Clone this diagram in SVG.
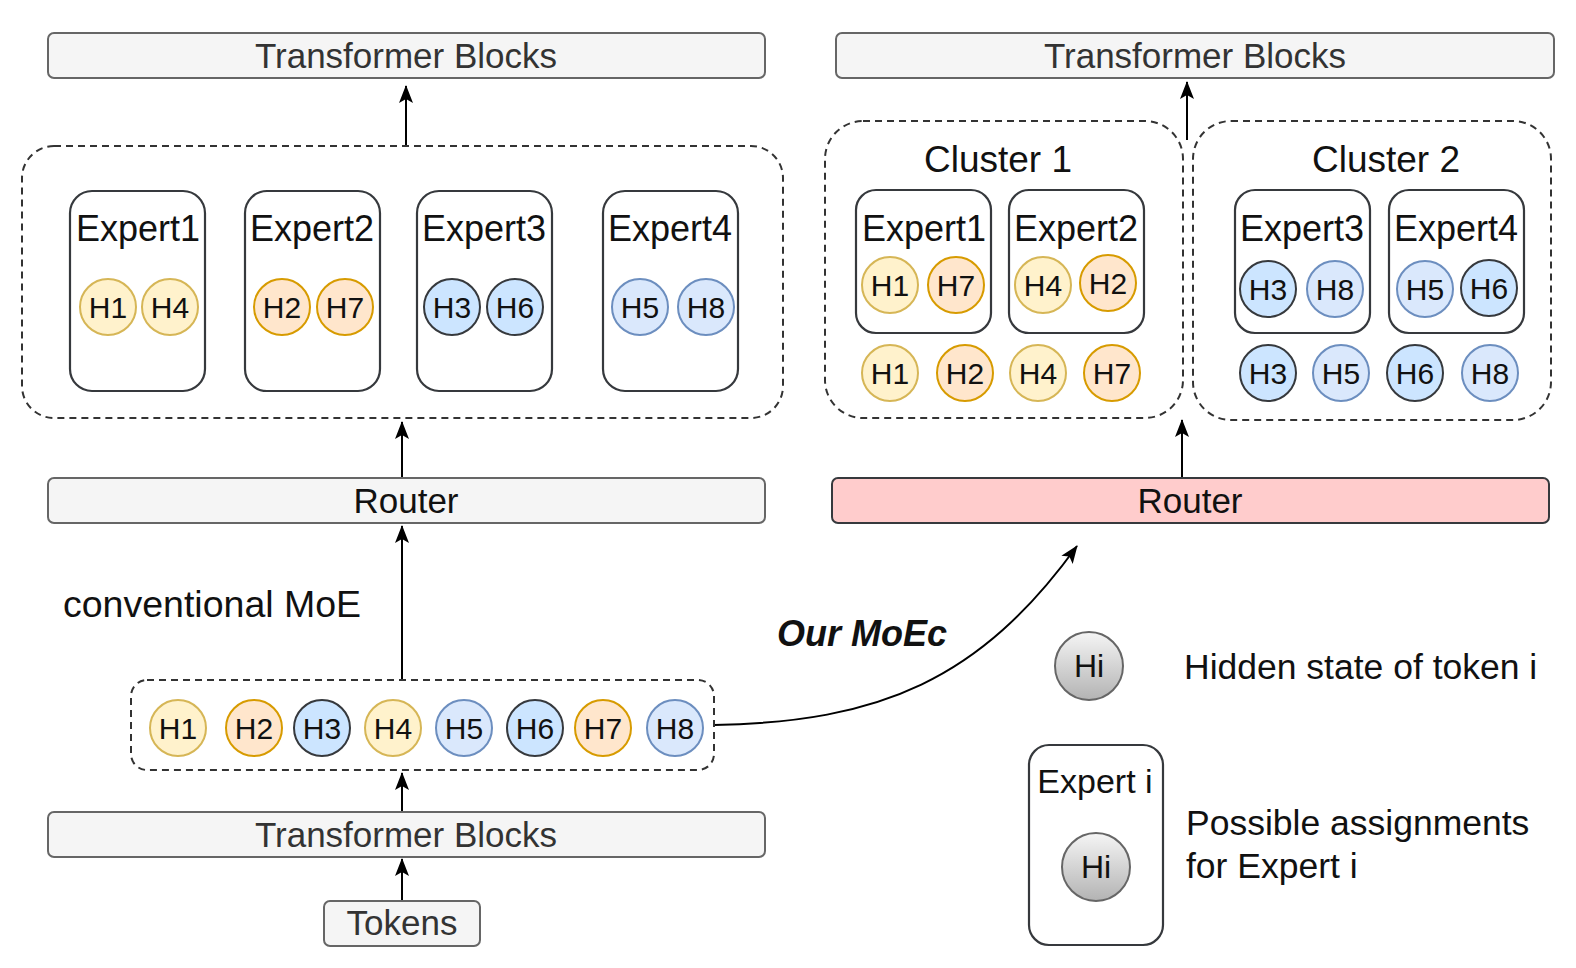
<svg xmlns="http://www.w3.org/2000/svg" width="1576" height="968" viewBox="0 0 1576 968">
<defs>
<linearGradient id="gray" x1="0" y1="0" x2="0" y2="1"><stop offset="0" stop-color="#f5f5f5"/><stop offset="1" stop-color="#b3b3b3"/></linearGradient>
<marker id="arr" viewBox="0 0 18 14" refX="17" refY="7" markerWidth="18" markerHeight="14" orient="auto" markerUnits="userSpaceOnUse"><path d="M0,0 L18,7 L0,14 L4,7 Z" fill="#000"/></marker>
<style>
text{font-family:"Liberation Sans",Arial,Helvetica,sans-serif;fill:#111}
.blk{fill:#f5f5f5;stroke:#666;stroke-width:2}
.blkt{font-size:35px;text-anchor:middle;fill:#333}
.dash{fill:none;stroke:#333;stroke-width:2;stroke-dasharray:7 5}
.exp{fill:#fff;stroke:#36393d;stroke-width:2.2}
.expt{font-size:36px;text-anchor:middle}
.ht{font-size:30px;text-anchor:middle}
.y{fill:#fff2cc;stroke:#d6b656;stroke-width:2}
.o{fill:#ffe6cc;stroke:#d79b00;stroke-width:2}
.b1{fill:#cce5ff;stroke:#36393d;stroke-width:2}
.b2{fill:#dae8fc;stroke:#6c8ebf;stroke-width:2}
.g{fill:url(#gray);stroke:#666;stroke-width:2}
.con{fill:none;stroke:#000;stroke-width:2;marker-end:url(#arr)}
.lbl{font-size:35.5px}
</style>
</defs>

<g id="connectors">
<line class="con" x1="406" y1="146" x2="406" y2="86"/>
<line class="con" x1="402" y1="478" x2="402" y2="422"/>
<line class="con" x1="402" y1="680" x2="402" y2="526"/>
<line class="con" x1="402" y1="812" x2="402" y2="773"/>
<line class="con" x1="402" y1="901" x2="402" y2="859"/>
<line class="con" x1="1187" y1="140" x2="1187" y2="82"/>
<line class="con" x1="1182" y1="478" x2="1182" y2="420"/>
<path class="con" d="M714 725 C880 722 980 680 1077 546"/>
</g>

<g id="left-top-transformer"><rect class="blk" x="48" y="33" width="717" height="45" rx="6"/><text class="blkt" x="406" y="68">Transformer Blocks</text></g>
<g id="left-experts-group"><rect class="dash" x="22" y="146" width="761" height="272" rx="32"/></g>

<g id="l-expert1"><rect class="exp" x="70" y="191" width="135" height="200" rx="22"/><text class="expt" x="138" y="241">Expert1</text>
<circle class="y" cx="108" cy="307" r="28"/><text class="ht" x="108" y="318">H1</text>
<circle class="y" cx="170" cy="307" r="28"/><text class="ht" x="170" y="318">H4</text></g>
<g id="l-expert2"><rect class="exp" x="245" y="191" width="135" height="200" rx="22"/><text class="expt" x="312" y="241">Expert2</text>
<circle class="o" cx="282" cy="307" r="28"/><text class="ht" x="282" y="318">H2</text>
<circle class="o" cx="345" cy="307" r="28"/><text class="ht" x="345" y="318">H7</text></g>
<g id="l-expert3"><rect class="exp" x="417" y="191" width="135" height="200" rx="22"/><text class="expt" x="484" y="241">Expert3</text>
<circle class="b1" cx="452" cy="307" r="28"/><text class="ht" x="452" y="318">H3</text>
<circle class="b1" cx="515" cy="307" r="28"/><text class="ht" x="515" y="318">H6</text></g>
<g id="l-expert4"><rect class="exp" x="603" y="191" width="135" height="200" rx="22"/><text class="expt" x="670" y="241">Expert4</text>
<circle class="b2" cx="640" cy="307" r="28"/><text class="ht" x="640" y="318">H5</text>
<circle class="b2" cx="706" cy="307" r="28"/><text class="ht" x="706" y="318">H8</text></g>

<g id="left-router"><rect class="blk" x="48" y="478" width="717" height="45" rx="6"/><text class="blkt" x="406" y="513" style="fill:#111">Router</text></g>
<g id="conv-label"><text class="lbl" x="63" y="617" style="font-size:37.5px">conventional MoE</text></g>

<g id="token-row"><rect class="dash" x="131" y="680" width="583" height="90" rx="16"/>
<circle class="y" cx="178" cy="728" r="28"/><text class="ht" x="178" y="739">H1</text>
<circle class="o" cx="254" cy="728" r="28"/><text class="ht" x="254" y="739">H2</text>
<circle class="b1" cx="322" cy="728" r="28"/><text class="ht" x="322" y="739">H3</text>
<circle class="y" cx="393" cy="728" r="28"/><text class="ht" x="393" y="739">H4</text>
<circle class="b2" cx="464" cy="728" r="28"/><text class="ht" x="464" y="739">H5</text>
<circle class="b1" cx="535" cy="728" r="28"/><text class="ht" x="535" y="739">H6</text>
<circle class="o" cx="603" cy="728" r="28"/><text class="ht" x="603" y="739">H7</text>
<circle class="b2" cx="675" cy="728" r="28"/><text class="ht" x="675" y="739">H8</text></g>

<g id="bottom-transformer"><rect class="blk" x="48" y="812" width="717" height="45" rx="6"/><text class="blkt" x="406" y="847">Transformer Blocks</text></g>
<g id="tokens"><rect class="blk" x="324" y="901" width="156" height="45" rx="6"/><text class="blkt" x="402" y="935">Tokens</text></g>

<g id="moec-label"><text x="777" y="646" style="font-size:36px;font-weight:bold;font-style:italic">Our MoEc</text></g>

<g id="right-top-transformer"><rect class="blk" x="836" y="33" width="718" height="45" rx="6"/><text class="blkt" x="1195" y="68">Transformer Blocks</text></g>

<g id="cluster1"><rect class="dash" x="825" y="121" width="358" height="297" rx="38"/><text class="expt" x="998" y="172" style="font-size:37px">Cluster 1</text>
<circle class="y" cx="890" cy="373" r="28"/><text class="ht" x="890" y="384">H1</text>
<circle class="o" cx="965" cy="373" r="28"/><text class="ht" x="965" y="384">H2</text>
<circle class="y" cx="1038" cy="373" r="28"/><text class="ht" x="1038" y="384">H4</text>
<circle class="o" cx="1112" cy="373" r="28"/><text class="ht" x="1112" y="384">H7</text></g>
<g id="c1-expert1"><rect class="exp" x="856" y="190" width="135" height="143" rx="20"/><text class="expt" x="924" y="241">Expert1</text>
<circle class="y" cx="890" cy="285" r="28"/><text class="ht" x="890" y="296">H1</text>
<circle class="o" cx="956" cy="285" r="28"/><text class="ht" x="956" y="296">H7</text></g>
<g id="c1-expert2"><rect class="exp" x="1009" y="190" width="135" height="143" rx="20"/><text class="expt" x="1076" y="241">Expert2</text>
<circle class="y" cx="1043" cy="285" r="28"/><text class="ht" x="1043" y="296">H4</text>
<circle class="o" cx="1108" cy="283" r="28"/><text class="ht" x="1108" y="294">H2</text></g>

<g id="cluster2"><rect class="dash" x="1193" y="121" width="358" height="299" rx="38"/><text class="expt" x="1386" y="172" style="font-size:37px">Cluster 2</text>
<circle class="b1" cx="1268" cy="373" r="28"/><text class="ht" x="1268" y="384">H3</text>
<circle class="b2" cx="1341" cy="373" r="28"/><text class="ht" x="1341" y="384">H5</text>
<circle class="b1" cx="1415" cy="373" r="28"/><text class="ht" x="1415" y="384">H6</text>
<circle class="b2" cx="1490" cy="373" r="28"/><text class="ht" x="1490" y="384">H8</text></g>
<g id="c2-expert3"><rect class="exp" x="1235" y="190" width="135" height="143" rx="20"/><text class="expt" x="1302" y="241">Expert3</text>
<circle class="b1" cx="1268" cy="289" r="28"/><text class="ht" x="1268" y="300">H3</text>
<circle class="b2" cx="1335" cy="289" r="28"/><text class="ht" x="1335" y="300">H8</text></g>
<g id="c2-expert4"><rect class="exp" x="1389" y="190" width="135" height="143" rx="20"/><text class="expt" x="1456" y="241">Expert4</text>
<circle class="b2" cx="1425" cy="289" r="28"/><text class="ht" x="1425" y="300">H5</text>
<circle class="b1" cx="1489" cy="288" r="28"/><text class="ht" x="1489" y="299">H6</text></g>

<g id="right-router"><rect x="832" y="478" width="717" height="45" rx="6" fill="#ffcccc" stroke="#36393d" stroke-width="2"/><text class="blkt" x="1190" y="513" style="fill:#111">Router</text></g>

<g id="legend-hidden"><circle class="g" cx="1089" cy="666" r="34"/><text class="ht" x="1089" y="677" style="font-size:32px">Hi</text>
<text class="lbl" x="1184" y="679">Hidden state of token i</text></g>
<g id="legend-expert"><rect class="exp" x="1029" y="745" width="134" height="200" rx="20"/><text class="expt" x="1095" y="793" style="font-size:34px">Expert i</text>
<circle class="g" cx="1096" cy="867" r="34"/><text class="ht" x="1096" y="878" style="font-size:32px">Hi</text>
<text class="lbl" x="1186" y="835">Possible assignments</text><text class="lbl" x="1186" y="878">for Expert i</text></g>
</svg>
